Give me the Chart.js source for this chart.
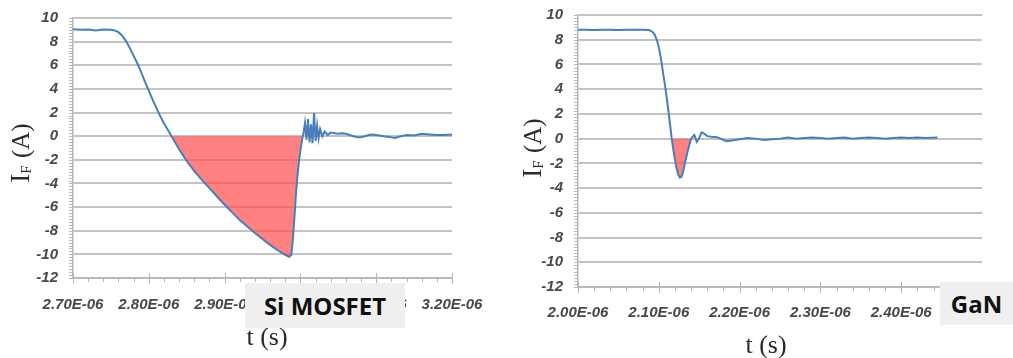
<!DOCTYPE html>
<html>
<head>
<meta charset="utf-8">
<script src="https://cdn.jsdelivr.net/npm/chart.js@4/dist/chart.umd.min.js"></script>
<style>
  html, body { margin: 0; padding: 0; background: #ffffff; }
  body { width: 1013px; height: 358px; position: relative; overflow: hidden; }
  .panel { position: absolute; top: 0; height: 358px; }
  .tag {
    position: absolute; background: #efefef; color: #111;
    font: bold 24px "Open Sans", "Liberation Sans", sans-serif;
    display: flex; align-items: center; justify-content: center;
  }
</style>
</head>
<body>
<div class="panel" style="left:0;width:500px"><canvas id="si" width="500" height="358"></canvas></div>
<div class="panel" style="left:500px;width:513px"><canvas id="gan" width="513" height="358"></canvas></div>
<div class="tag" style="left:245px;top:283px;width:160px;height:45px">Si MOSFET</div>
<div class="tag" style="left:940px;top:282px;width:73px;height:43px">GaN</div>
<script>
// Time in microseconds (labels are printed as ×1E-06 s), forward current in A.
const siTime = [
  2.700, 2.710, 2.720, 2.730, 2.740, 2.750, 2.755, 2.760, 2.765, 2.770,
  2.775, 2.780, 2.785, 2.790, 2.795, 2.800, 2.805, 2.810, 2.815, 2.820,
  2.825, 2.830, 2.835, 2.840, 2.845, 2.850, 2.860, 2.870, 2.880, 2.890,
  2.900, 2.910, 2.920, 2.930, 2.940, 2.950, 2.960, 2.970, 2.980, 2.985,
  2.988, 2.990, 2.992, 2.994, 2.996, 2.998, 3.000, 3.002, 3.003, 3.004,
  3.006, 3.008, 3.010, 3.012, 3.014, 3.016, 3.018, 3.020, 3.022, 3.024,
  3.026, 3.029, 3.032, 3.036, 3.040, 3.045, 3.050, 3.055,
  3.060, 3.065, 3.070, 3.075, 3.080, 3.085, 3.090, 3.095, 3.100, 3.110,
  3.115, 3.120, 3.125, 3.130, 3.140, 3.150, 3.160, 3.170, 3.180, 3.190,
  3.200
];
const siCurrent = [
  9.05, 9.00, 9.02, 8.94, 9.02, 9.00, 8.95, 8.80, 8.50, 8.05,
  7.45, 6.80, 6.15, 5.40, 4.60, 3.85, 3.10, 2.40, 1.70, 1.10,
  0.55, 0.00, -0.55, -1.10, -1.60, -2.10, -2.95, -3.70, -4.40, -5.10,
  -5.80, -6.45, -7.10, -7.65, -8.20, -8.70, -9.20, -9.65, -10.05, -10.20,
  -10.05, -8.80, -7.00, -5.00, -3.40, -2.20, -1.20, -0.40, 0.00, 0.20,
  1.10, -0.30, 1.45, -0.50, 1.00, -0.60, 1.95, -0.40, 0.90, -0.20,
  0.60, 0.00, 0.40, 0.10, 0.30, 0.25, 0.20, 0.25,
  0.20, 0.10, 0.00, -0.10, -0.10, 0.00, 0.10, 0.15, 0.10, 0.00,
  -0.05, -0.10, -0.15, -0.05, 0.10, 0.05, 0.20, 0.15, 0.10, 0.10,
  0.15
];
// Reverse-recovery interval (shaded), between the two zero crossings.
const siRecovery = [2.830, 3.003];

const ganTime = [
  2.000, 2.010, 2.020, 2.030, 2.040, 2.050, 2.060, 2.070, 2.080, 2.088,
  2.092, 2.095, 2.098, 2.100, 2.102, 2.104, 2.106, 2.108, 2.110, 2.112,
  2.114, 2.116, 2.118, 2.120, 2.122, 2.124, 2.126, 2.128, 2.130, 2.132,
  2.134, 2.136, 2.138, 2.140, 2.142, 2.144, 2.147, 2.150, 2.153, 2.156,
  2.160, 2.165, 2.172, 2.178, 2.184, 2.190, 2.200, 2.210, 2.220, 2.230,
  2.240, 2.250, 2.260, 2.270, 2.280, 2.290, 2.300, 2.310, 2.320, 2.330,
  2.340, 2.350, 2.360, 2.370, 2.380, 2.390, 2.400, 2.410, 2.420, 2.430,
  2.445
];
const ganCurrent = [
  8.80, 8.80, 8.78, 8.80, 8.80, 8.79, 8.80, 8.80, 8.80, 8.78,
  8.65, 8.40, 7.90, 7.40, 6.70, 5.90, 5.00, 4.20, 3.20, 2.20,
  1.10, 0.00, -0.90, -1.70, -2.40, -2.90, -3.15, -3.10, -2.70, -2.10,
  -1.50, -0.95, -0.45, 0.00, 0.15, 0.30, -0.25, 0.05, 0.50, 0.40,
  0.20, 0.15, 0.12, -0.05, -0.20, -0.15, -0.05, 0.05, 0.00, -0.10,
  -0.05, 0.00, 0.10, 0.00, 0.05, 0.10, 0.05, 0.00, 0.05, 0.10,
  0.00, 0.05, 0.10, 0.05, 0.00, 0.05, 0.10, 0.05, 0.10, 0.05,
  0.10
];
const ganRecovery = [2.116, 2.140];

const yTicks = [-12, -10, -8, -6, -4, -2, 0, 2, 4, 6, 8, 10];

const LINE_BLUE = '#4a7ebb';
const FILL_RED = 'rgba(255,80,80,0.72)';
const GRID = '#c3c3c3';
const TICK_FONT = { family: '"Liberation Sans", Arial, sans-serif', size: 15, style: 'italic', weight: 'bold' };

function points(ts, vs) { return ts.map((t, i) => ({ x: t, y: vs[i] })); }
function recoveryPoints(ts, vs, span) {
  return points(ts, vs).filter(p => p.x >= span[0] - 1e-9 && p.x <= span[1] + 1e-9);
}

// Axis decorations: minor ticks on both axes and titles drawn as canvas text.
const axisDecor = {
  id: 'axisDecor',
  afterDraw(chart, args, o) {
    const { ctx, chartArea: a, scales: { x, y } } = chart;
    ctx.save();
    ctx.strokeStyle = '#b5b5b5';
    ctx.lineWidth = 1;
    ctx.beginPath();
    // y minor ticks
    for (let v = y.min; v <= y.max + 1e-9; v += 0.25) {
      const py = Math.round(y.getPixelForValue(v)) + 0.5;
      ctx.moveTo(a.left - 4, py); ctx.lineTo(a.left, py);
    }
    // x minor and major ticks
    const steps = Math.round((x.max - x.min) / 0.02);
    for (let i = 0; i <= steps; i++) {
      const px = Math.round(x.getPixelForValue(x.min + i * 0.02)) + 0.5;
      const major = i % 5 === 0;
      ctx.moveTo(px, a.bottom - (major ? 5 : 0));
      ctx.lineTo(px, a.bottom + (major ? 6 : 4));
    }
    ctx.stroke();

    ctx.fillStyle = '#2a2a2a';
    ctx.textBaseline = 'alphabetic';
    // x title
    ctx.font = '26px "Liberation Serif", "Times New Roman", serif';
    ctx.textAlign = 'center';
    ctx.fillText('t (s)', o.xTitle[0], o.xTitle[1] + 8);
    // y title: I with subscript F, rotated
    ctx.translate(o.yTitle[0], o.yTitle[1]);
    ctx.rotate(-Math.PI / 2);
    const big = '27px "Liberation Serif", "Times New Roman", serif';
    const small = '15px "Liberation Serif", "Times New Roman", serif';
    const rest = '25px "Liberation Serif", "Times New Roman", serif';
    ctx.font = big; const wI = ctx.measureText('I').width;
    ctx.font = small; const wF = ctx.measureText('F').width;
    ctx.font = rest; const wR = ctx.measureText(' (A)').width;
    let sx = -(wI + wF + 1 + wR) / 2;
    ctx.textAlign = 'left';
    ctx.font = big; ctx.fillText('I', sx, 9); sx += wI;
    ctx.font = small; ctx.fillText('F', sx, 11); sx += wF + 1;
    ctx.font = rest; ctx.fillText(' (A)', sx, 9);
    ctx.restore();
  }
};

function makeChart(id, ts, vs, span, xr, box, deco) {
  return new Chart(document.getElementById(id), {
    type: 'line',
    data: {
      datasets: [
        {
          data: points(ts, vs), borderColor: LINE_BLUE, borderWidth: 2,
          pointRadius: 0, tension: 0, fill: false, order: 0
        },
        {
          data: recoveryPoints(ts, vs, span), borderWidth: 0, borderColor: 'transparent',
          backgroundColor: FILL_RED, pointRadius: 0, tension: 0, fill: 'origin', order: 1
        }
      ]
    },
    options: {
      responsive: false, animation: false, devicePixelRatio: 1,
      layout: { padding: { left: 0, top: box.top, right: box.right, bottom: 0 } },
      plugins: { legend: { display: false }, tooltip: { enabled: false }, axisDecor: deco },
      scales: {
        x: {
          type: 'linear', min: xr[0], max: xr[1],
          afterFit(s) { s.height = box.xh; s.paddingLeft = 0; s.paddingRight = 0; },
          grid: { display: false, drawTicks: false },
          border: { display: true, color: '#b5b5b5', width: 1.5 },
          ticks: {
            stepSize: 0.1, padding: box.xpad, color: '#484848', font: TICK_FONT, maxRotation: 0,
            callback: v => v.toFixed(2) + 'E-06'
          }
        },
        y: {
          min: -12, max: 10,
          afterBuildTicks(s) { s.ticks = yTicks.map(v => ({ value: v })); },
          afterFit(s) { s.width = box.yw; s.paddingTop = 0; s.paddingBottom = 0; },
          grid: { color: GRID, lineWidth: 2, drawTicks: false },
          border: { display: true, color: '#b5b5b5', width: 1.5 },
          ticks: { padding: 15, color: '#484848', font: TICK_FONT, callback: v => String(v) }
        }
      }
    },
    plugins: [axisDecor]
  });
}

makeChart('si', siTime, siCurrent, siRecovery, [2.70, 3.20],
  { top: 18, right: 48, xh: 80, yw: 73, xpad: 18 },
  { xTitle: [267, 337], yTitle: [20, 153] });

makeChart('gan', ganTime, ganCurrent, ganRecovery, [2.00, 2.50],
  { top: 15, right: 31, xh: 71, yw: 78, xpad: 17 },
  { xTitle: [266, 345], yTitle: [32, 148] });
</script>
</body>
</html>
